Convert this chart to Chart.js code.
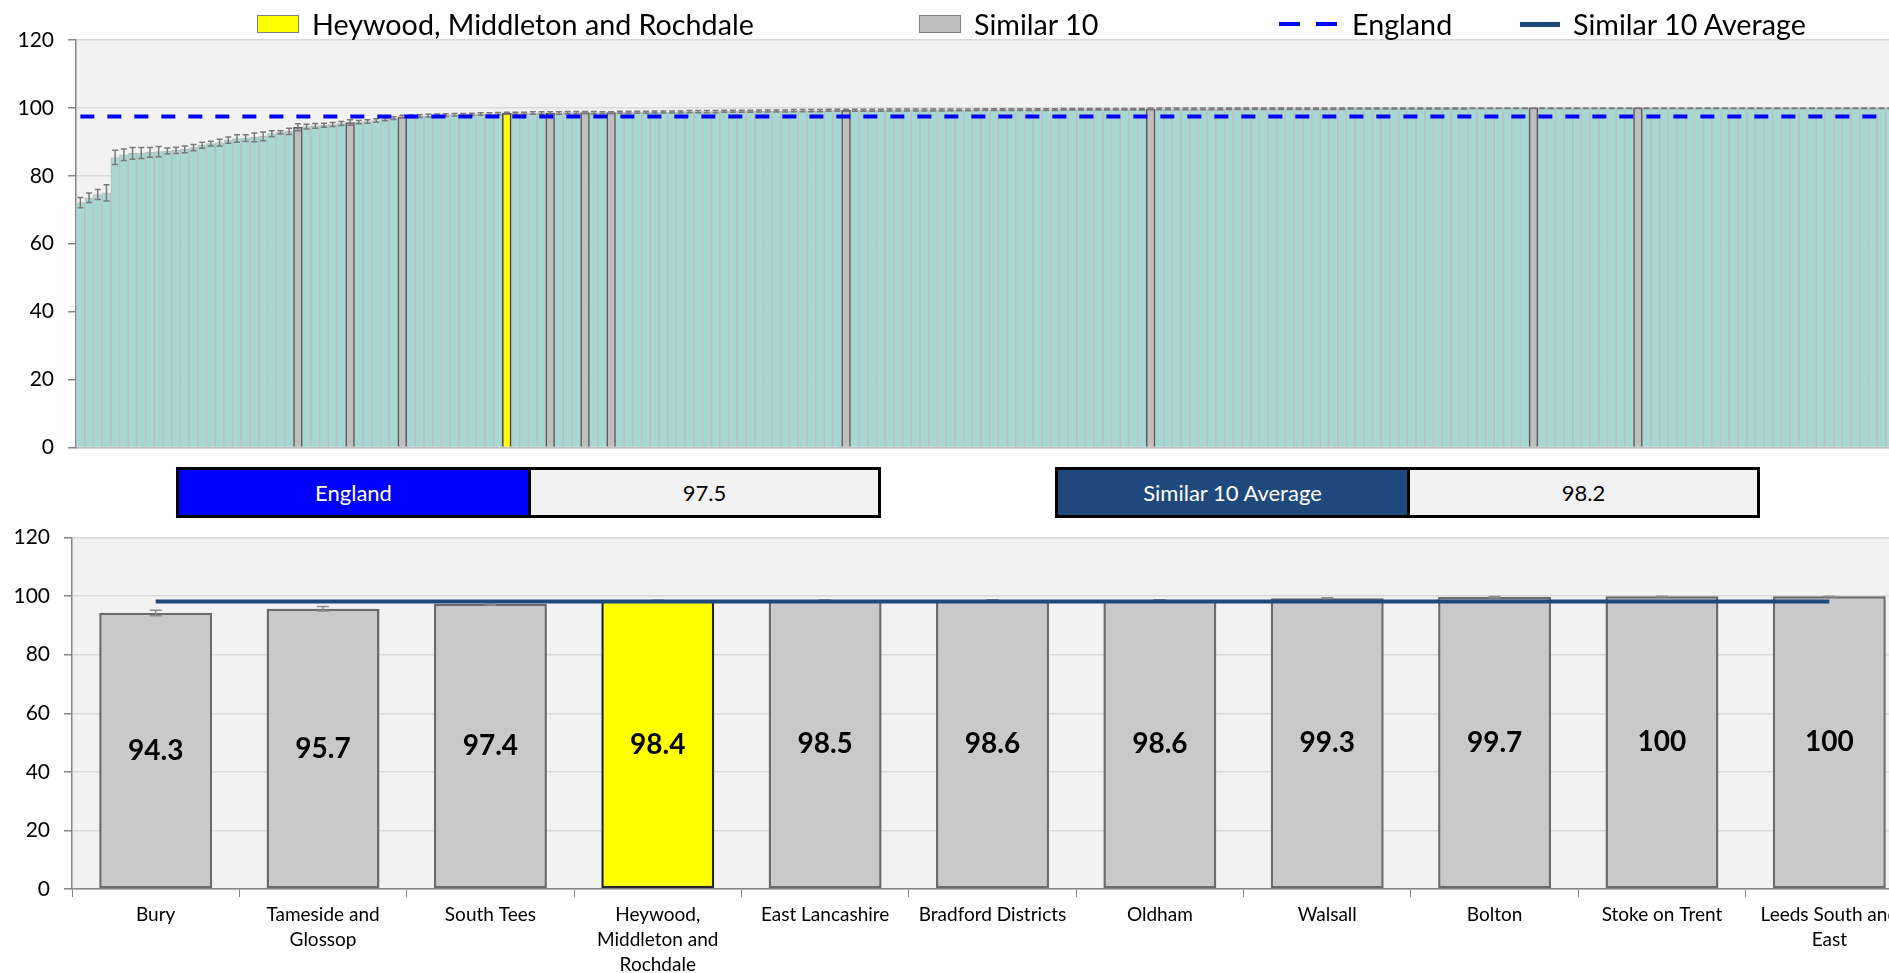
<!DOCTYPE html>
<html lang="en">
<head>
<meta charset="utf-8">
<title>Similar 10</title>
<script src="https://cdn.jsdelivr.net/npm/chart.js@4.4.1/dist/chart.umd.min.js"></script>
<style>
  html, body { margin: 0; padding: 0; background: #fff; }
  body { width: 1889px; height: 973px; overflow: hidden; position: relative; font-family: Lato, "Open Sans", sans-serif; }
  #horni { position: absolute; left: 0; top: 0; width: 1912px; height: 474px; }
  #dolni { position: absolute; left: 0; top: 511px; width: 1913px; height: 468px; }
  #legenda { position: absolute; left: 0; top: 4px; width: 1889px; height: 40px; }
  .polozka { position: absolute; top: 0; height: 40px; display: flex; align-items: center; font-size: 28.7px; color: #000; white-space: nowrap; }
  .ctverec { display: block; width: 42px; height: 18px; box-sizing: border-box; border: 1.5px solid #7f7f7f; margin-right: 13px; }
  .cara { display: block; }
  .panel { position: absolute; top: 467px; width: 705px; height: 51px; box-sizing: border-box; border: 3px solid #000; display: flex; font-size: 22px; }
  .panel .nazev { width: 349px; border-right: 3px solid #000; color: #fff; display: flex; align-items: center; justify-content: center; }
  .panel .hodnota { flex: 1; background: #f2f2f2; color: #000; display: flex; align-items: center; justify-content: center; }
</style>
</head>
<body>
<div id="horni"><canvas id="graf-horni"></canvas></div>
<div id="dolni"><canvas id="graf-dolni"></canvas></div>
<div id="legenda"></div>
<div class="panel" style="left:176px"><div class="nazev" style="background:#0000ff">England</div><div class="hodnota" id="england-hodnota"></div></div>
<div class="panel" style="left:1055px"><div class="nazev" style="background:#1f497d">Similar 10 Average</div><div class="hodnota" id="prumer-hodnota"></div></div>
<script>
// Hodnoty všech CCG seřazené vzestupně
const hodnotyCCG = [
  72.1, 73.5, 74.5, 75.0, 85.4, 86.2, 86.6, 86.7, 86.9, 87.1,
  87.3, 87.5, 87.8, 88.3, 89.0, 89.5, 89.8, 90.5, 91.0, 91.1,
  91.3, 91.6, 92.4, 92.8, 93.1, 94.3, 94.5, 94.7, 94.9, 95.1,
  95.4, 95.7, 95.8, 96.0, 96.3, 96.6, 97.0, 97.4, 97.5, 97.6,
  97.7, 97.8, 97.9, 98.0, 98.0, 98.1, 98.2, 98.2, 98.3, 98.4,
  98.4, 98.4, 98.5, 98.5, 98.5, 98.5, 98.6, 98.6, 98.6, 98.6,
  98.6, 98.6, 98.7, 98.7, 98.7, 98.7, 98.8, 98.8, 98.8, 98.8,
  98.9, 98.9, 98.9, 98.9, 99.0, 99.0, 99.0, 99.0, 99.1, 99.1,
  99.1, 99.1, 99.2, 99.2, 99.2, 99.2, 99.3, 99.3, 99.3, 99.3,
  99.3, 99.3, 99.3, 99.4, 99.4, 99.4, 99.4, 99.4, 99.4, 99.4,
  99.4, 99.4, 99.4, 99.5, 99.5, 99.5, 99.5, 99.5, 99.5, 99.5,
  99.5, 99.5, 99.5, 99.6, 99.6, 99.6, 99.6, 99.6, 99.6, 99.6,
  99.6, 99.6, 99.6, 99.7, 99.7, 99.7, 99.7, 99.7, 99.7, 99.7,
  99.7, 99.7, 99.8, 99.8, 99.8, 99.8, 99.8, 99.8, 99.8, 99.8,
  99.8, 99.8, 99.8, 99.8, 99.8, 99.8, 99.9, 99.9, 99.9, 99.9,
  99.9, 99.9, 99.9, 99.9, 99.9, 99.9, 99.9, 99.9, 99.9, 99.9,
  100, 100, 100, 100, 100, 100, 100, 100, 100, 100,
  100, 100, 100, 100, 100, 100, 100, 100, 100, 100,
  100, 100, 100, 100, 100, 100, 100, 100, 100, 100,
  100, 100, 100, 100, 100, 100, 100, 100, 100, 100,
  100, 100, 100, 100, 100, 100, 100, 100, 100, 100,
  100
];
// Polovina intervalu spolehlivosti (chybové úsečky)
const intervalCCG = [
  1.5, 1.4, 1.5, 2.4, 2.1, 1.7, 1.7, 1.6, 1.4, 1.5,
  0.9, 0.9, 1.0, 0.9, 0.9, 0.7, 1.0, 0.9, 1.1, 1.0,
  1.3, 1.3, 0.9, 0.5, 0.9, 1.0, 0.7, 0.7, 0.6, 0.6,
  0.6, 0.8, 0.5, 0.5, 0.5, 0.4, 0.4, 0.4, 0.4, 0.4,
  0.4, 0.4, 0.4, 0.35, 0.35, 0.35, 0.35, 0.35, 0.35, 0.3,
  0.35, 0.35, 0.35, 0.35, 0.35, 0.35, 0.35, 0.35, 0.35, 0.35,
  0.3, 0.3, 0.3, 0.3, 0.3, 0.3, 0.3, 0.3, 0.3, 0.3,
  0.3, 0.3, 0.3, 0.3, 0.3, 0.3, 0.3, 0.3, 0.3, 0.3,
  0.3, 0.3, 0.3, 0.3, 0.3, 0.3, 0.3, 0.3, 0.3, 0.3,
  0.3, 0.3, 0.3, 0.3, 0.3, 0.3, 0.3, 0.3, 0.3, 0.3,
  0.25, 0.25, 0.25, 0.25, 0.25, 0.25, 0.25, 0.25, 0.25, 0.25,
  0.25, 0.25, 0.25, 0.25, 0.25, 0.25, 0.25, 0.25, 0.25, 0.25,
  0.25, 0.25, 0.25, 0.25, 0.25, 0.25, 0.25, 0.25, 0.25, 0.25,
  0.25, 0.25, 0.25, 0.25, 0.25, 0.25, 0.25, 0.25, 0.25, 0.25,
  0.25, 0.25, 0.25, 0.25, 0.25, 0.25, 0.25, 0.25, 0.25, 0.25,
  0.25, 0.25, 0.25, 0.25, 0.25, 0.25, 0.25, 0.25, 0.25, 0.25,
  0.2, 0.2, 0.2, 0.2, 0.2, 0.2, 0.2, 0.2, 0.2, 0.2,
  0.2, 0.2, 0.2, 0.2, 0.2, 0.2, 0.2, 0.2, 0.2, 0.2,
  0.2, 0.2, 0.2, 0.2, 0.2, 0.2, 0.2, 0.2, 0.2, 0.2,
  0.2, 0.2, 0.2, 0.2, 0.2, 0.2, 0.2, 0.2, 0.2, 0.2,
  0.2, 0.2, 0.2, 0.2, 0.2, 0.2, 0.2, 0.2, 0.2, 0.2,
  0.2
];
// Pozice zvýrazněných CCG v seřazeném grafu
const indexHeywood = 49;
const indexySimilar = [25, 31, 37, 54, 58, 61, 88, 123, 167, 179];

// Dolní graf – Similar 10
const nazvySimilar = [
  ['Bury'], ['Tameside and', 'Glossop'], ['South Tees'], ['Heywood,', 'Middleton and', 'Rochdale'],
  ['East Lancashire'], ['Bradford Districts'], ['Oldham'], ['Walsall'], ['Bolton'],
  ['Stoke on Trent'], ['Leeds South and', 'East']
];
const hodnotySimilar = [94.3, 95.7, 97.4, 98.4, 98.5, 98.6, 98.6, 99.3, 99.7, 100, 100];
const dolniMezSimilar = [93.3, 94.9, 97.0, 98.1, 98.3, 98.4, 98.4, 99.1, 99.5, 99.8, 99.8];
const horniMezSimilar = [95.2, 96.5, 97.8, 98.6, 98.7, 98.8, 98.8, 99.5, 99.9, 100, 100];
const indexHeywoodDolni = 3;

const hodnotaEngland = 97.5;
const prumerSimilar = 98.2;

const nazevHeywood = 'Heywood, Middleton and Rochdale';

Chart.defaults.font.family = 'Lato, "Open Sans", sans-serif';
Chart.defaults.color = '#000';

// --- Pluginy ---
// Šedé pozadí plochy grafu
const pozadiPlochy = {
  id: 'pozadiPlochy',
  beforeDraw(chart, args, opts) {
    const { ctx, chartArea: a } = chart;
    ctx.save();
    ctx.fillStyle = opts.color || '#F2F2F2';
    ctx.fillRect(a.left, a.top, a.right - a.left, a.bottom - a.top);
    ctx.restore();
  }
};

// Chybové úsečky (kresleno po zadaném datasetu)
const chybovky = {
  id: 'chybovky',
  afterDatasetDraw(chart, args, opts) {
    if (!opts.dolni || args.index !== opts.poDatasetu) return;
    const { ctx, scales: { x, y } } = chart;
    ctx.save();
    ctx.strokeStyle = opts.barva;
    ctx.lineWidth = opts.sirka;
    opts.dolni.forEach((lo, i) => {
      const px = x.getPixelForValue(i);
      const y1 = y.getPixelForValue(lo);
      const y2 = y.getPixelForValue(opts.horni[i]);
      ctx.beginPath();
      ctx.moveTo(px, y1); ctx.lineTo(px, y2);
      ctx.moveTo(px - opts.cap, y1); ctx.lineTo(px + opts.cap, y1);
      ctx.moveTo(px - opts.cap, y2); ctx.lineTo(px + opts.cap, y2);
      ctx.stroke();
    });
    ctx.restore();
  }
};

// Popisky hodnot uprostřed sloupců
const popiskyHodnot = {
  id: 'popiskyHodnot',
  afterDatasetsDraw(chart, args, opts) {
    if (opts.dataset === undefined) return;
    const meta = chart.getDatasetMeta(opts.dataset);
    const data = chart.data.datasets[opts.dataset].data;
    const ctx = chart.ctx;
    ctx.save();
    ctx.font = 'bold 28px Lato, "Open Sans", sans-serif';
    ctx.fillStyle = '#000';
    ctx.textAlign = 'center';
    ctx.textBaseline = 'middle';
    meta.data.forEach((el, i) => {
      ctx.fillText(String(data[i]), el.x, (el.y + el.base) / 2);
    });
    ctx.restore();
  }
};

// --- Horní graf: všechna CCG ---
const dolniCCG = hodnotyCCG.map((v, i) => v - intervalCCG[i]);
const horniCCG = hodnotyCCG.map((v, i) => Math.min(100, v + intervalCCG[i]));
const popiskyCCG = hodnotyCCG.map((_, i) => 'CCG ' + (i + 1));

const horniGraf = new Chart(document.getElementById('graf-horni'), {
  type: 'bar',
  data: {
    labels: popiskyCCG,
    datasets: [
      {
        type: 'line',
        label: 'England',
        data: hodnotyCCG.map(() => hodnotaEngland),
        borderColor: '#0000FF',
        borderWidth: 4,
        borderDash: [14, 13],
        pointRadius: 0,
        order: 0
      },
      {
        label: nazevHeywood,
        data: hodnotyCCG.map((v, i) => i === indexHeywood ? v : null),
        backgroundColor: '#FFFF00',
        borderColor: '#404040',
        borderWidth: 1.5,
        grouped: false,
        categoryPercentage: 1,
        barPercentage: 1,
        order: 1
      },
      {
        label: 'Similar 10',
        data: hodnotyCCG.map((v, i) => indexySimilar.includes(i) ? v : null),
        backgroundColor: '#BFBFBF',
        borderColor: '#595959',
        borderWidth: 1.5,
        grouped: false,
        categoryPercentage: 1,
        barPercentage: 1,
        order: 2
      },
      {
        label: 'All CCGs',
        data: hodnotyCCG.map((v, i) => (i === indexHeywood || indexySimilar.includes(i)) ? null : v),
        backgroundColor: '#A7D8D4',
        borderColor: '#BDBDBD',
        borderWidth: 1,
        grouped: false,
        categoryPercentage: 1,
        barPercentage: 1,
        order: 3
      }
    ]
  },
  options: {
    responsive: true,
    maintainAspectRatio: false,
    animation: false,
    layout: { padding: { top: 40, left: 0, right: 0, bottom: 0 } },
    plugins: {
      legend: { display: false },
      tooltip: { enabled: false },
      pozadiPlochy: { color: '#F2F2F2' },
      chybovky: { dolni: dolniCCG, horni: horniCCG, poDatasetu: 1, barva: '#7A7A7A', sirka: 1.5, cap: 3 }
    },
    scales: {
      x: {
        grid: { display: false },
        ticks: { display: false },
        border: { color: '#BFBFBF', width: 1.5 },
        afterFit(s) { s.height = 0; }
      },
      y: {
        min: 0,
        max: 120,
        ticks: { stepSize: 20, color: '#000', font: { size: 21 }, padding: 14 },
        grid: { color: '#D9D9D9', lineWidth: 1.5, tickColor: '#868686', tickLength: 8 },
        border: { color: '#868686', width: 1.5 },
        afterFit(s) { s.width = 76; }
      }
    }
  },
  plugins: [pozadiPlochy, chybovky]
});

// --- Dolní graf: Similar 10 ---
const dolniGraf = new Chart(document.getElementById('graf-dolni'), {
  type: 'bar',
  data: {
    labels: nazvySimilar,
    datasets: [
      {
        type: 'line',
        label: 'Similar 10 Average',
        data: hodnotySimilar.map(() => prumerSimilar),
        borderColor: '#1F497D',
        borderWidth: 4,
        pointRadius: 0,
        order: 0
      },
      {
        label: 'Similar 10',
        data: hodnotySimilar,
        backgroundColor: hodnotySimilar.map((_, i) => i === indexHeywoodDolni ? '#FFFF00' : '#C9C9C9'),
        borderColor: hodnotySimilar.map((_, i) => i === indexHeywoodDolni ? '#262626' : '#6B6B6B'),
        borderWidth: 2.5,
        borderSkipped: false,
        categoryPercentage: 1,
        barPercentage: 0.675,
        order: 1
      }
    ]
  },
  options: {
    responsive: true,
    maintainAspectRatio: false,
    animation: false,
    layout: { padding: { top: 8, left: 0, right: 0, bottom: 0 } },
    plugins: {
      legend: { display: false },
      tooltip: { enabled: false },
      pozadiPlochy: { color: '#F2F2F2' },
      chybovky: { dolni: dolniMezSimilar, horni: horniMezSimilar, poDatasetu: 1, barva: '#8C8C8C', sirka: 1.5, cap: 6 },
      popiskyHodnot: { dataset: 1 }
    },
    scales: {
      x: {
        grid: { drawOnChartArea: false, tickLength: 8, tickColor: '#868686', offset: true },
        border: { color: '#868686', width: 1.5 },
        ticks: { color: '#000', font: { size: 19, lineHeight: 1.33 }, maxRotation: 0, minRotation: 0, autoSkip: false, padding: 5 },
        afterFit(s) { s.height = 90; }
      },
      y: {
        min: 0,
        max: 120,
        ticks: { stepSize: 20, color: '#000', font: { size: 21 }, padding: 14 },
        grid: { color: '#D9D9D9', lineWidth: 1.5, tickColor: '#868686', tickLength: 8 },
        border: { color: '#868686', width: 1.5 },
        afterFit(s) { s.width = 72; }
      }
    }
  },
  plugins: [pozadiPlochy, chybovky, popiskyHodnot]
});

// --- Panely s hodnotami ---
document.getElementById('england-hodnota').textContent = hodnotaEngland.toFixed(1);
document.getElementById('prumer-hodnota').textContent = prumerSimilar.toFixed(1);

// --- Legenda (z datasetů obou grafů) ---
const dsH = horniGraf.data.datasets;
const dsD = dolniGraf.data.datasets;
const legenda = [
  { nazev: dsH[1].label, typ: 'box', barva: dsH[1].backgroundColor, x: 257 },
  { nazev: dsH[2].label, typ: 'box', barva: dsH[2].backgroundColor, x: 919 },
  { nazev: dsH[0].label, typ: 'carka', barva: dsH[0].borderColor, x: 1279 },
  { nazev: dsD[0].label, typ: 'cara', barva: dsD[0].borderColor, x: 1520 }
];
const legendaEl = document.getElementById('legenda');
legenda.forEach(p => {
  const el = document.createElement('div');
  el.className = 'polozka';
  el.style.left = p.x + 'px';
  const znak = document.createElement('span');
  if (p.typ === 'box') {
    znak.className = 'ctverec';
    znak.style.background = p.barva;
  } else if (p.typ === 'carka') {
    znak.className = 'cara';
    znak.style.cssText = `display:block;width:58px;height:4px;margin-right:15px;background:repeating-linear-gradient(90deg, ${p.barva} 0 21px, transparent 21px 37px)`;
  } else {
    znak.className = 'cara';
    znak.style.cssText = `display:block;width:40px;height:5px;margin-right:13px;background:${p.barva}`;
  }
  const text = document.createElement('span');
  text.textContent = p.nazev;
  el.appendChild(znak);
  el.appendChild(text);
  legendaEl.appendChild(el);
});
</script>
</body>
</html>
